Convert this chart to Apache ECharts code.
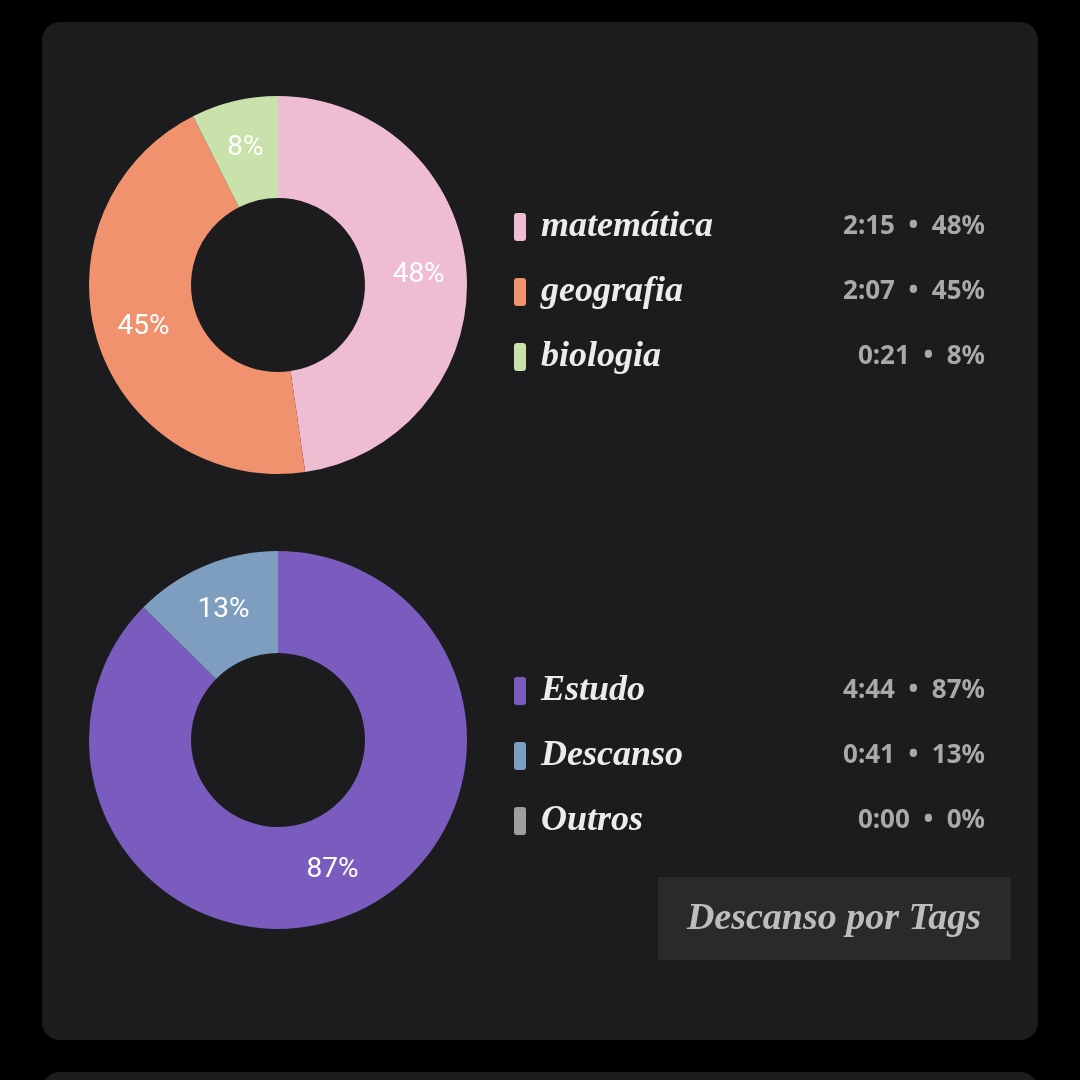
<!DOCTYPE html>
<html>
<head>
<meta charset="utf-8">
<script src="https://cdn.jsdelivr.net/npm/echarts@6/dist/echarts.min.js"></script>
<style>
  html, body { margin: 0; padding: 0; background: #000; }
  #main { width: 1080px; height: 1080px; }
</style>
</head>
<body>
<div id="main"></div>
<script>
// matérias (minutos)
const subjectNames = ['matemática', 'geografia', 'biologia']
const subjectMinutes = [135, 127, 21]
const subjectPct = ['48%', '45%', '8%']
const subjectColors = ['#efbdd1', '#f0926d', '#c9e1ab']

// tags (minutos)
const tagNames = ['Estudo', 'Descanso', 'Outros']
const tagMinutes = [284, 41, 0]
const tagPct = ['87%', '13%', '0%']
const tagColors = ['#7a5cbf', '#7e9ebf', '#9e9e9e']

const scriptFont = '"Liberation Serif", serif'

function fmtTime(m) {
  const h = Math.floor(m / 60)
  const mm = m % 60
  return h + ':' + (mm < 10 ? '0' : '') + mm
}

function buildData(names, values, colors) {
  return names.map((n, i) => ({
    name: n,
    value: values[i],
    itemStyle: { color: colors[i] },
    label: { show: values[i] > 0 }
  }))
}

function legendFor(names, values, pcts, top) {
  return {
    orient: 'vertical',
    left: 509,
    top: top,
    itemWidth: 12,
    itemHeight: 28,
    itemGap: 29,
    icon: 'roundRect',
    selectedMode: false,
    data: names,
    formatter: function (name) {
      const i = names.indexOf(name)
      return '{n|' + name + '}{v|' + fmtTime(values[i]) + '  •  ' + pcts[i] + '}'
    },
    textStyle: {
      rich: {
        n: {
          width: 260, padding: [0, 0, 0, 10], fontFamily: scriptFont, fontStyle: 'italic',
          fontWeight: 'bold', fontSize: 36, color: '#ececec', lineHeight: 40
        },
        v: {
          width: 184, align: 'right', fontFamily: '"Noto Sans", sans-serif', fontWeight: 'bold',
          fontSize: 26, color: '#a9a9a9', lineHeight: 40
        }
      }
    }
  }
}

function pieFor(names, values, colors, pcts, cy) {
  return {
    type: 'pie',
    center: [278, cy],
    radius: [87, 189],
    startAngle: 90,
    clockwise: true,
    avoidLabelOverlap: false,
    silent: true,
    data: buildData(names, values, colors),
    label: {
      position: 'inside',
      color: '#ffffff',
      fontFamily: 'Roboto, sans-serif',
      fontSize: 28,
      formatter: function (p) { return pcts[p.dataIndex] }
    },
    labelLine: { show: false },
    itemStyle: { borderWidth: 0 }
  }
}

const chart = echarts.init(document.getElementById('main'))

chart.setOption({
  backgroundColor: '#000000',
  animation: false,
  graphic: [
    { type: 'rect', z: -10, shape: { x: 42, y: 22, width: 996, height: 1018, r: 18 }, style: { fill: '#1c1c1e' } },
    { type: 'rect', z: -10, shape: { x: 42, y: 1072, width: 996, height: 100, r: 18 }, style: { fill: '#1c1c1e' } },
    { type: 'rect', z: -5, shape: { x: 658, y: 877, width: 353, height: 83 }, style: { fill: '#2a2a2b' } },
    {
      type: 'text', z: -4, x: 834, y: 919,
      style: {
        text: 'Descanso por Tags', fill: '#bdbdbd', align: 'center', verticalAlign: 'middle',
        font: 'italic bold 38px "Liberation Serif", serif'
      }
    }
  ],
  legend: [
    legendFor(subjectNames, subjectMinutes, subjectPct, 204),
    legendFor(tagNames, tagMinutes, tagPct, 668)
  ],
  series: [
    pieFor(subjectNames, subjectMinutes, subjectColors, subjectPct, 285),
    pieFor(tagNames, tagMinutes, tagColors, tagPct, 740)
  ]
})
</script>
</body>
</html>
